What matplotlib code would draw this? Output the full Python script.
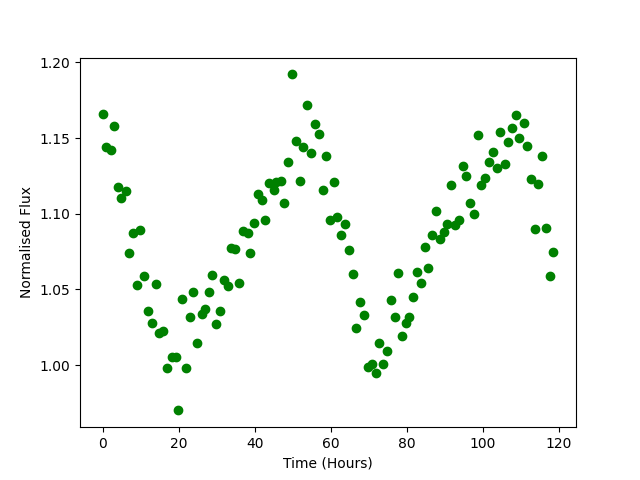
#!usr/bin/env python3

# Scatter plot of normalised flux over time

import matplotlib
matplotlib.use('Agg')
import matplotlib.pyplot as plt

time_hours = [0.0, 0.87, 2.1, 2.97, 4.1, 4.9, 6.05, 7.0, 7.9, 9.1,
              9.9, 10.95, 11.9, 13.05, 14.1, 14.8, 15.9, 17.0, 18.2, 19.2,
              19.8, 20.9, 22.0, 23.05, 23.8, 24.9, 26.05, 26.9, 28.05, 28.8,
              29.9, 30.9, 31.9, 33.05, 33.9, 34.95, 35.95, 36.9, 38.15, 38.85,
              39.9, 40.95, 42.0, 42.8, 43.8, 45.0, 45.7, 47.0, 47.8, 48.85,
              49.9, 50.95, 52.0, 52.8, 53.8, 54.9, 55.95, 57.0, 57.9, 58.8,
              59.8, 60.9, 61.7, 62.8, 63.8, 64.9, 65.9, 66.7, 67.7, 68.8,
              69.9, 70.95, 71.8, 72.8, 73.8, 74.9, 75.9, 76.8, 77.8, 78.8,
              79.9, 80.7, 81.7, 82.8, 83.8, 84.9, 85.7, 86.7, 87.8, 88.8,
              89.9, 90.65, 91.7, 92.8, 93.85, 94.9, 95.7, 96.7, 97.7, 98.8,
              99.6, 100.7, 101.7, 102.8, 103.8, 104.6, 105.8, 106.7, 107.8, 108.8,
              109.6, 110.8, 111.7, 112.7, 113.8, 114.6, 115.7, 116.7, 117.7, 118.6]

flux = [1.166, 1.144, 1.142, 1.158, 1.118, 1.1105, 1.115, 1.074, 1.087, 1.053,
        1.089, 1.059, 1.036, 1.0275, 1.0535, 1.021, 1.0226, 0.998, 1.005, 1.005,
        0.970, 1.0434, 0.998, 1.0317, 1.048, 1.0143, 1.0334, 1.0367, 1.048, 1.0592,
        1.027, 1.0356, 1.0561, 1.0521, 1.0773, 1.0764, 1.0541, 1.0885, 1.087, 1.074,
        1.0942, 1.113, 1.1092, 1.0958, 1.1206, 1.1158, 1.1207, 1.1219, 1.1068, 1.1339,
        1.1921, 1.148, 1.1215, 1.1438, 1.1722, 1.1399, 1.159, 1.153, 1.1156, 1.1379,
        1.0958, 1.1209, 1.0976, 1.0857, 1.0931, 1.0758, 1.0599, 1.0244, 1.0414, 1.0328,
        0.9984, 1.0006, 0.9944, 1.0143, 1.0006, 1.0092, 1.0429, 1.0315, 1.0607, 1.0191,
        1.0275, 1.0317, 1.0447, 1.0614, 1.0539, 1.0777, 1.0638, 1.0857, 1.1017, 1.0832,
        1.0878, 1.0931, 1.1187, 1.0923, 1.0958, 1.1315, 1.1247, 1.1068, 1.0995, 1.152,
        1.1187, 1.1233, 1.1339, 1.1405, 1.1299, 1.1537, 1.1332, 1.1471, 1.1566, 1.165,
        1.150, 1.1603, 1.1445, 1.1227, 1.0896, 1.1194, 1.1381, 1.0903, 1.0586, 1.0746]


def main():

    fig, ax = plt.subplots(figsize=(6.4, 4.8), dpi=100)
    ax.scatter(time_hours, flux, color='green')
    ax.set_xlabel('Time (Hours)')
    ax.set_ylabel('Normalised Flux')
    fig.savefig('out.png')


if __name__ == "__main__":
    main()
